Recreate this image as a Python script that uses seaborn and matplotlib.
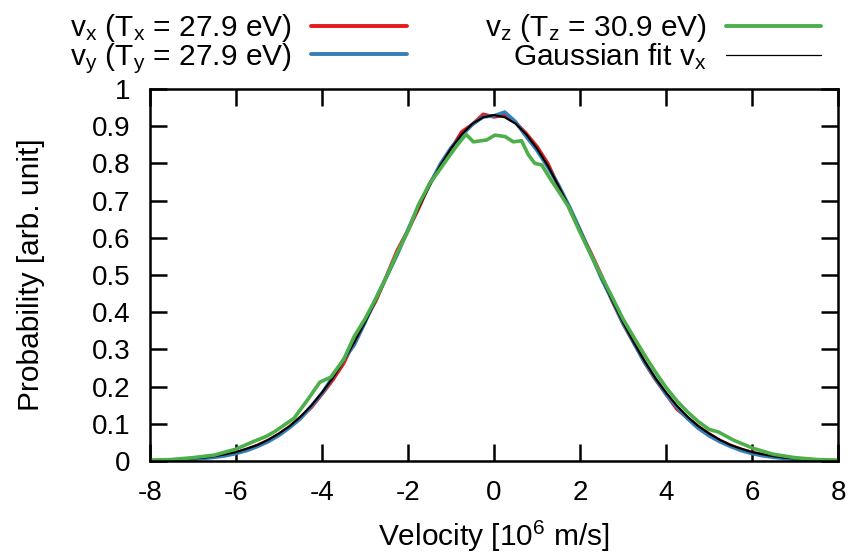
import numpy as np
import pandas as pd
import matplotlib
matplotlib.use("Agg")
import matplotlib.pyplot as plt
import seaborn as sns
from matplotlib.lines import Line2D

# ---- data ----
grid_x = [-8 + 0.25 * i for i in range(65)]

vx_y = [0.001, 0.002, 0.003, 0.004, 0.006, 0.008, 0.012, 0.016, 0.022, 0.031,
        0.042, 0.055, 0.072, 0.092, 0.117, 0.144, 0.180, 0.218, 0.262, 0.322,
        0.378, 0.430, 0.497, 0.566, 0.620, 0.680, 0.745, 0.792, 0.838, 0.885,
        0.905, 0.932, 0.925, 0.930, 0.910, 0.880, 0.845, 0.800, 0.738, 0.680,
        0.618, 0.560, 0.498, 0.430, 0.370, 0.318, 0.266, 0.220, 0.180, 0.140,
        0.116, 0.092, 0.073, 0.055, 0.042, 0.031, 0.023, 0.017, 0.012, 0.008,
        0.006, 0.004, 0.003, 0.002, 0.001]

vy_y = [0.0005, 0.001, 0.002, 0.003, 0.005, 0.007, 0.010, 0.014, 0.020, 0.028,
        0.039, 0.052, 0.069, 0.090, 0.114, 0.147, 0.182, 0.226, 0.272, 0.312,
        0.372, 0.436, 0.495, 0.555, 0.622, 0.688, 0.742, 0.798, 0.842, 0.875,
        0.905, 0.925, 0.928, 0.938, 0.912, 0.872, 0.835, 0.790, 0.742, 0.685,
        0.622, 0.556, 0.490, 0.432, 0.370, 0.318, 0.265, 0.222, 0.180, 0.145,
        0.114, 0.088, 0.068, 0.052, 0.039, 0.028, 0.020, 0.014, 0.010, 0.007,
        0.005, 0.003, 0.002, 0.001, 0.0005]

fit_y = [0.001, 0.002, 0.003, 0.005, 0.007, 0.009, 0.013, 0.018, 0.024, 0.033,
         0.043, 0.057, 0.074, 0.094, 0.119, 0.149, 0.184, 0.223, 0.269, 0.319,
         0.373, 0.432, 0.493, 0.557, 0.620, 0.682, 0.740, 0.794, 0.840, 0.878,
         0.907, 0.924, 0.930, 0.924, 0.907, 0.878, 0.840, 0.794, 0.740, 0.682,
         0.620, 0.557, 0.493, 0.432, 0.373, 0.319, 0.269, 0.223, 0.184, 0.149,
         0.119, 0.094, 0.074, 0.057, 0.043, 0.033, 0.024, 0.018, 0.013, 0.009,
         0.007, 0.005, 0.003, 0.002, 0.001]

vz_x = [-8, -7.5, -7, -6.5, -6, -5.6, -5.3, -5.1, -4.9, -4.65, -4.35, -4.05,
        -3.8, -3.5, -3.25, -3, -2.75, -2.5, -2.25, -2, -1.75, -1.5, -1.25,
        -1.1, -0.85, -0.65, -0.48, -0.17, 0.02, 0.26, 0.45, 0.64, 0.80, 0.95,
        1.11, 1.30, 1.53, 1.73, 2.0, 2.25, 2.5, 2.75, 3.0, 3.25, 3.5, 3.75,
        4.0, 4.25, 4.5, 4.75, 5.0, 5.22, 5.57, 6.03, 6.5, 7, 7.5, 8]
vz_y = [0.002, 0.004, 0.009, 0.016, 0.032, 0.052, 0.066, 0.079, 0.095, 0.115,
        0.162, 0.212, 0.225, 0.272, 0.335, 0.382, 0.436, 0.495, 0.560, 0.618,
        0.690, 0.745, 0.785, 0.810, 0.850, 0.878, 0.858, 0.863, 0.876, 0.872,
        0.858, 0.861, 0.823, 0.800, 0.796, 0.760, 0.720, 0.684, 0.615, 0.555,
        0.497, 0.440, 0.382, 0.333, 0.285, 0.240, 0.198, 0.162, 0.132, 0.106,
        0.085, 0.078, 0.056, 0.034, 0.018, 0.009, 0.004, 0.002]

labels = [r"v$_{x}$ (T$_{x}$ = 27.9 eV)", r"v$_{y}$ (T$_{y}$ = 27.9 eV)",
          r"v$_{z}$ (T$_{z}$ = 30.9 eV)", r"Gaussian fit v$_{x}$"]
colors = ["#e41a1c", "#377eb8", "#4daf4a", "#000000"]

x_ticks = [-8, -6, -4, -2, 0, 2, 4, 6, 8]
y_ticks = [0, 0.1, 0.2, 0.3, 0.4, 0.5, 0.6, 0.7, 0.8, 0.9, 1]
y_tick_labels = ["0", "0.1", "0.2", "0.3", "0.4", "0.5", "0.6", "0.7", "0.8", "0.9", "1"]

# ---- style ----
sns.set_theme(style="ticks")
plt.rcParams["font.family"] = ["Liberation Sans", "DejaVu Sans"]
plt.rcParams["mathtext.default"] = "regular"
plt.rcParams["axes.unicode_minus"] = False

fig = plt.figure(figsize=(8.48, 5.56), dpi=100)
ax = fig.add_axes([150 / 848, 1 - 461 / 556, 688 / 848, 372 / 556])

df_x = pd.DataFrame({"v": grid_x, "p": vx_y})
df_y = pd.DataFrame({"v": grid_x, "p": vy_y})
df_f = pd.DataFrame({"v": grid_x, "p": fit_y})
df_z = pd.DataFrame({"v": vz_x, "p": vz_y})

sns.lineplot(data=df_x, x="v", y="p", ax=ax, color=colors[0], lw=2.6, estimator=None, sort=False)
sns.lineplot(data=df_y, x="v", y="p", ax=ax, color=colors[1], lw=2.6, estimator=None, sort=False)
sns.lineplot(data=df_f, x="v", y="p", ax=ax, color=colors[3], lw=1.6, estimator=None, sort=False)
sns.lineplot(data=df_z, x="v", y="p", ax=ax, color=colors[2], lw=2.6, estimator=None, sort=False)

leg_handles = [Line2D([], [], color=colors[0], lw=2.8),
               Line2D([], [], color=colors[1], lw=2.8),
               Line2D([], [], color=colors[2], lw=2.8),
               Line2D([], [], color=colors[3], lw=0.9)]

ax.set_xlim(-8, 8)
ax.set_ylim(0, 1)
ax.set_xticks(x_ticks)
ax.set_xticklabels([str(t) for t in x_ticks])
ax.set_yticks(y_ticks)
ax.set_yticklabels(y_tick_labels)
ax.tick_params(direction="in", length=12, width=1.8, top=True, right=True,
               labelsize=20, pad=14, color="black", labelcolor="black")
for s in ax.spines.values():
    s.set_linewidth(1.8)
    s.set_color("black")
    s.set_visible(True)

ax.set_xlabel(r"Velocity [10$^{6}$ m/s]", fontsize=21.5, labelpad=9, color="black")
ax.set_ylabel("Probability [arb. unit]", fontsize=21.5, labelpad=34, color="black")

leg = ax.legend(leg_handles, labels, ncol=2, markerfirst=False, frameon=False,
                loc="lower center", bbox_to_anchor=(0.43, 1.004), fontsize=21.5,
                handlelength=3.2, handletextpad=0.65, columnspacing=2.6,
                labelspacing=-0.1, borderaxespad=0)
for t in leg.get_texts():
    t.set_color("black")

fig.savefig("out.png", dpi=100)
